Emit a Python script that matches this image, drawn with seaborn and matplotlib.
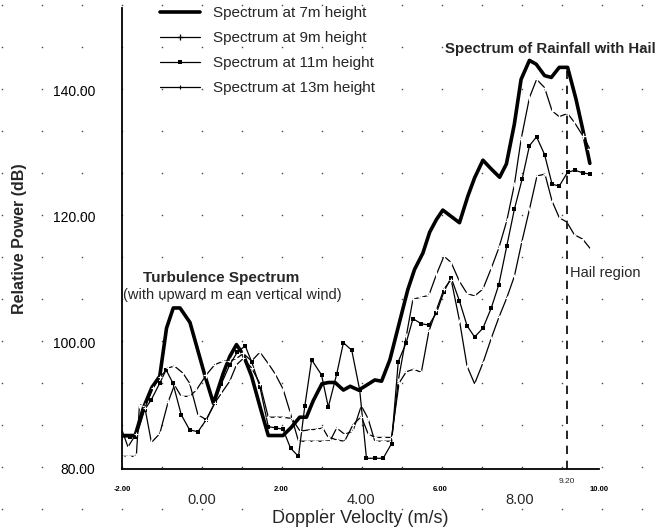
import matplotlib
matplotlib.use("Agg")
import matplotlib.pyplot as plt
import seaborn as sns
import numpy as np
import pandas as pd
from matplotlib.lines import Line2D
from matplotlib.transforms import blended_transform_factory

# ---------------- data ----------------
v_7m = [-2.05, -1.85, -1.67, -1.46, -1.25, -1.05, -0.88, -0.71, -0.54, -0.29, -0.12, 0.09, 0.30,
        0.55, 0.71, 0.88, 1.05, 1.26, 1.47, 1.68, 1.88, 2.05, 2.26, 2.47, 2.64, 2.81, 3.03, 3.20,
        3.36, 3.57, 3.74, 3.95, 4.11, 4.36, 4.53, 4.74, 4.95, 5.19, 5.36, 5.57, 5.74, 5.91, 6.07,
        6.28, 6.49, 6.70, 6.87, 7.08, 7.29, 7.50, 7.67, 7.87, 8.04, 8.25, 8.42, 8.63, 8.80, 9.00,
        9.21, 9.42, 9.59, 9.77]
p_7m = [85.3, 85.3, 85.3, 89.7, 92.9, 94.7, 102.3, 105.5, 105.5, 103.2, 99.4, 94.7, 90.4,
        95.2, 97.8, 99.7, 98.1, 94.7, 89.9, 85.3, 85.3, 85.3, 86.6, 88.2, 88.2, 90.8, 93.5, 93.7,
        93.7, 92.5, 93.1, 92.5, 93.1, 94.1, 93.9, 97.3, 102.5, 108.4, 111.6, 114.2, 117.5, 119.5, 121.0,
        120.0, 119.0, 123.2, 126.1, 128.9, 127.5, 126.2, 128.3, 134.6, 141.7, 144.7, 144.1, 142.3, 142.0, 143.6,
        143.6, 138.6, 133.8, 128.4]

v_9m = [-2.02, -1.85, -1.64, -1.56, -1.43, -1.26, -1.05, -0.84, -0.68, -0.51, -0.30, -0.13, 0.12,
        0.33, 0.55, 0.71, 0.88, 1.05, 1.26, 1.47, 1.68, 1.85, 2.05, 2.23, 2.44, 2.65, 2.86, 3.07,
        3.24, 3.40, 3.60, 3.81, 4.02, 4.19, 4.36, 4.57, 4.78, 4.95, 5.15, 5.32, 5.53, 5.72, 5.91,
        6.10, 6.28, 6.49, 6.68, 6.87, 7.08, 7.29, 7.48, 7.68, 7.87, 8.04, 8.25, 8.43, 8.63, 8.82,
        9.00, 9.21, 9.38, 9.59, 9.77]
p_9m = [82.0, 82.0, 82.0, 90.2, 89.9, 84.2, 85.6, 90.6, 93.3, 91.5, 91.5, 92.5, 94.9,
        96.5, 97.1, 97.1, 97.5, 98.3, 97.1, 98.5, 96.7, 95.1, 92.7, 89.0, 84.4, 84.4, 84.4, 84.4,
        84.5, 86.5, 85.5, 86.0, 90.0, 88.0, 84.4, 84.4, 84.4, 94.0, 101.0, 106.9, 107.2, 107.5, 110.8,
        113.7, 112.7, 109.7, 107.8, 107.4, 108.5, 111.8, 115.0, 119.3, 125.0, 132.2, 138.8, 141.7, 140.4, 136.7,
        135.8, 136.3, 134.9, 132.8, 130.7]

v_11m = [-2.02, -1.81, -1.64, -1.43, -1.26, -1.05, -0.89, -0.72, -0.51, -0.30, -0.09, 0.12, 0.33,
         0.50, 0.71, 0.90, 1.10, 1.26, 1.47, 1.68, 1.88, 2.05, 2.24, 2.44, 2.60, 2.77, 3.02, 3.19,
         3.40, 3.57, 3.78, 3.98, 4.15, 4.36, 4.57, 4.78, 4.95, 5.15, 5.32, 5.53, 5.72, 5.91, 6.10,
         6.28, 6.49, 6.68, 6.87, 7.08, 7.29, 7.48, 7.68, 7.87, 8.07, 8.25, 8.43, 8.63, 8.82, 9.00,
         9.21, 9.40, 9.59, 9.77]
p_11m = [85.1, 85.1, 85.1, 89.4, 91.0, 93.6, 95.7, 93.6, 88.6, 86.2, 85.9, 87.8, 90.4,
         93.5, 96.5, 98.5, 99.5, 97.0, 93.0, 86.7, 86.5, 86.3, 83.3, 82.0, 90.0, 97.3, 94.9, 89.8,
         95.0, 100.0, 98.8, 92.5, 81.7, 81.7, 81.7, 84.0, 97.0, 100.0, 103.8, 103.0, 102.8, 104.7, 108.1,
         110.3, 106.6, 102.7, 100.9, 102.3, 105.5, 109.2, 115.3, 121.1, 126.0, 131.2, 132.6, 129.8, 125.1, 124.8,
         127.0, 127.3, 126.9, 126.7]

v_13m = [-2.02, -1.85, -1.64, -1.43, -1.22, -1.05, -0.84, -0.68, -0.47, -0.30, -0.09, 0.12, 0.33,
         0.50, 0.71, 0.88, 1.05, 1.26, 1.47, 1.68, 1.88, 2.05, 2.27, 2.48, 2.72, 2.90, 3.05, 3.18,
         3.40, 3.60, 3.81, 4.02, 4.19, 4.36, 4.57, 4.78, 4.97, 5.15, 5.34, 5.53, 5.72, 5.91, 6.10,
         6.28, 6.49, 6.68, 6.87, 7.08, 7.29, 7.48, 7.68, 7.87, 8.06, 8.25, 8.44, 8.64, 8.82, 9.00,
         9.19, 9.38, 9.59, 9.78]
p_13m = [86.5, 83.5, 85.6, 89.6, 92.8, 94.5, 96.0, 96.3, 95.2, 93.6, 88.6, 87.8, 90.4,
         92.0, 93.9, 96.5, 97.5, 96.0, 93.5, 88.2, 88.2, 88.2, 88.0, 86.0, 86.2, 86.3, 86.5, 85.1,
         84.6, 84.4, 87.0, 88.3, 85.6, 85.0, 85.0, 85.0, 93.6, 95.4, 95.8, 95.3, 101.8, 105.2, 108.5,
         110.0, 103.5, 96.3, 93.5, 96.8, 100.7, 104.0, 107.1, 110.5, 116.0, 121.1, 126.4, 126.7, 122.4, 119.8,
         119.1, 117.1, 116.4, 114.9]

series_labels = ["Spectrum at 7m height", "Spectrum at 9m height",
                 "Spectrum at 11m height", "Spectrum at 13m height"]
hail_velocity = 9.2
hail_line_top = 144.1
y_major_ticks = [80, 100, 120, 140]
y_minor_ticks = [90, 110, 130, 150]
x_ticks = [-2, 0, 2, 4, 6, 8, 10]
x_small_labels = ["-2.00", "", "2.00", "", "6.00", "", "10.00"]
x_big_ticks = [0, 4, 8]
x_big_labels = ["0.00", "4.00", "8.00"]

# ---------------- figure ----------------
sns.set_style("white")
plt.rcParams["font.family"] = ["Liberation Sans", "DejaVu Sans"]

W, H = 662, 531
fig = plt.figure(figsize=(W / 100, H / 100), dpi=100)
fig.patch.set_facecolor("white")

# faint background dot texture of the scanned original
gx, gy = np.meshgrid(np.arange(2, W, 40), np.arange(5, H, 42))
fig.add_artist(Line2D(gx.ravel() / W, 1 - gy.ravel() / H, ls="none", marker="s",
                      ms=1.0, mew=0, color="#444444", transform=fig.transFigure, zorder=0))

ax = fig.add_axes([122 / W, 1 - 469 / H, 477 / W, (469 - 8) / H])
ax.set_facecolor("none")

styles = [
    dict(lw=2.6, marker=None),
    dict(lw=0.9, marker="+", markersize=4, markeredgewidth=0.9),
    dict(lw=0.9, marker="s", markersize=2.6, markeredgewidth=0),
    dict(lw=0.9, marker="+", markersize=3, markeredgewidth=0.8),
]
data = [(v_7m, p_7m), (v_9m, p_9m), (v_11m, p_11m), (v_13m, p_13m)]
handles = []
for (vx, py), st, lab in zip(data, styles, series_labels):
    df = pd.DataFrame({"Doppler Velocity": vx, "Relative Power": py})
    kw = {k: v for k, v in st.items() if v is not None}
    sns.lineplot(data=df, x="Doppler Velocity", y="Relative Power", ax=ax, color="black",
                 sort=False, estimator=None, **kw)
    handles.append(Line2D([], [], color="black", **kw))

ax.set_xlim(-2, 10)
ax.set_ylim(80, 153)

for s in ["top", "right"]:
    ax.spines[s].set_visible(False)
for s in ["left", "bottom"]:
    ax.spines[s].set_color("black")
    ax.spines[s].set_linewidth(1.3)

ax.set_yticks(y_major_ticks)
ax.set_yticklabels([f"{t:.2f}" for t in y_major_ticks])
ax.set_yticks(y_minor_ticks, minor=True)
ax.tick_params(axis="y", which="major", direction="out", length=11, width=1.3,
               labelsize=10, pad=8, colors="black")
ax.tick_params(axis="y", which="minor", direction="out", length=5, width=1.3)

ax.set_xticks(x_ticks)
ax.set_xticklabels(x_small_labels)
ax.tick_params(axis="x", which="major", direction="out", length=9, width=1.3,
               labelsize=5.5, pad=3, colors="black")
for lbl in ax.get_xticklabels():
    lbl.set_fontweight("bold")

trans = blended_transform_factory(ax.transData, ax.transAxes)
for t, l in zip(x_big_ticks, x_big_labels):
    ax.text(t, -0.067, l, transform=trans, ha="center", va="center", fontsize=10.5)
ax.text(hail_velocity, -0.028, f"{hail_velocity:.2f}", transform=trans, ha="center",
        va="center", fontsize=6)

ax.set_xlabel("Doppler Veloclty (m/s)", fontsize=13)
ax.xaxis.set_label_coords(0.5, -0.088)
ax.set_ylabel("Relative Power (dB)", fontsize=11.5, fontweight="bold")
ax.yaxis.set_label_coords(-0.2, 0.5)

ax.vlines(hail_velocity, 80, hail_line_top, colors="black", linestyles=(0, (5, 4)), lw=1.2)

ax.text(-1.47, 110.3, "Turbulence Spectrum", fontsize=11, fontweight="bold", va="center")
ax.text(-1.97, 107.6, "(with upward m ean vertical wind)", fontsize=10.5, va="center")
ax.text(6.12, 146.5, "Spectrum of Rainfall with Hail", fontsize=10.8, fontweight="bold",
        va="center", clip_on=False)
ax.text(9.26, 111.1, "Hail region", fontsize=10.5, va="center", clip_on=False)

fig.legend(handles, series_labels, loc="upper left", bbox_to_anchor=(160 / W, 1 - 6 / H),
           frameon=False, fontsize=11, handlelength=2.6, handletextpad=0.85,
           labelspacing=0.72, borderpad=0, borderaxespad=0, numpoints=1)

fig.savefig("out.png", dpi=100, facecolor="white")
